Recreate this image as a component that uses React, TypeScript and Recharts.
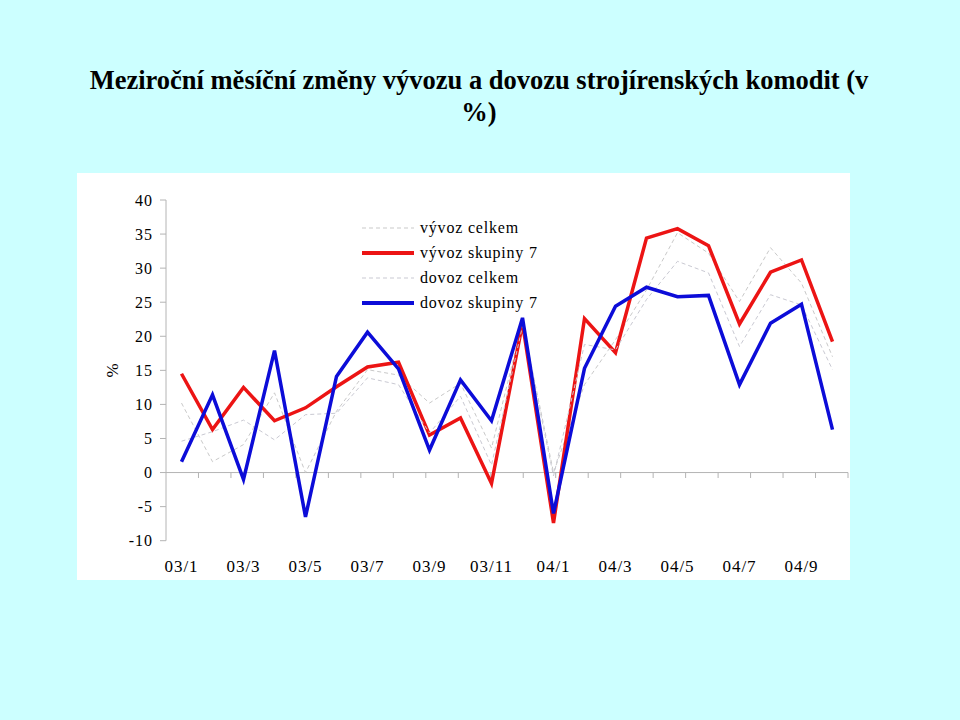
import { LineChart, Line, XAxis, YAxis, ReferenceLine, Legend } from 'recharts';

const months = [
  '03/1', '03/2', '03/3', '03/4', '03/5', '03/6', '03/7', '03/8', '03/9', '03/10', '03/11', '03/12',
  '04/1', '04/2', '04/3', '04/4', '04/5', '04/6', '04/7', '04/8', '04/9', '04/10',
];
const vyvozCelkem = [10.2, 1.6, 4.1, 11.7, 0.0, 9.0, 15.1, 14.3, 10.2, 13.1, 3.6, 22.0, 0.0, 12.9, 19.5, 26.8, 35.2, 32.2, 25.1, 33.0, 27.8, 17.0];
const vyvozSkupiny7 = [14.5, 6.3, 12.5, 7.6, 9.5, 12.6, 15.5, 16.2, 5.5, 8.0, -1.6, 21.9, -7.4, 22.6, 17.6, 34.4, 35.8, 33.3, 21.8, 29.4, 31.2, 19.2];
const dovozCelkem = [4.6, 6.0, 7.7, 4.8, 8.5, 8.7, 13.9, 12.9, 5.8, 11.2, 1.1, 21.5, -0.5, 18.8, 18.0, 25.4, 31.0, 29.3, 18.5, 26.1, 24.6, 15.1];
const dovozSkupiny7 = [1.6, 11.4, -1.0, 17.9, -6.5, 14.1, 20.6, 15.2, 3.3, 13.6, 7.6, 22.7, -6.0, 15.3, 24.4, 27.2, 25.8, 26.0, 12.9, 21.9, 24.7, 6.3];
const yTicks = [-10, -5, 0, 5, 10, 15, 20, 25, 30, 35, 40];
const xLabels = months.filter((_, i) => i % 2 === 0);
const boundaries = months.map((_, i) => i + 1);

const data = months.map((m, i) => ({
  month: m,
  vyvozCelkem: vyvozCelkem[i],
  vyvozSkupiny7: vyvozSkupiny7[i],
  dovozCelkem: dovozCelkem[i],
  dovozSkupiny7: dovozSkupiny7[i],
}));

const series = [
  { key: 'vyvozCelkem', name: 'vývoz celkem', color: '#c9c9c9', width: 1, dash: '4 3' },
  { key: 'vyvozSkupiny7', name: 'vývoz skupiny 7', color: '#ec1414', width: 3.5, dash: undefined },
  { key: 'dovozCelkem', name: 'dovoz celkem', color: '#c9c9d2', width: 1, dash: '4 3' },
  { key: 'dovozSkupiny7', name: 'dovoz skupiny 7', color: '#0c0cd8', width: 3.5, dash: undefined },
];

const FONT = '"Liberation Serif", "Times New Roman", serif';
const AXIS = '#b4b4b4';

function SeriesLegend() {
  return (
    <div style={{ fontFamily: FONT, fontSize: 16, letterSpacing: 0.8, color: '#000' }}>
      {series.map((s) => (
        <div key={s.key} style={{ display: 'flex', alignItems: 'center', height: 25 }}>
          <svg width={54} height={8} style={{ marginRight: 4 }}>
            <line x1={0} y1={4} x2={52} y2={4} stroke={s.color} strokeWidth={s.dash ? 1 : 4} strokeDasharray={s.dash} />
          </svg>
          <span>{s.name}</span>
        </div>
      ))}
    </div>
  );
}

export default function App() {
  return (
    <div style={{ position: 'fixed', left: 0, top: 0, width: 960, height: 720, background: '#ccffff', fontFamily: FONT }}>
      <div
        style={{
          position: 'absolute', left: 0, top: 64, width: 958, textAlign: 'center',
          fontSize: 26.5, lineHeight: '32px', fontWeight: 'bold', color: '#000',
        }}
      >
        Meziroční měsíční změny vývozu a dovozu strojírenských komodit (v
        <br />
        %)
      </div>

      <div style={{ position: 'absolute', left: 77, top: 173, width: 773, height: 407, background: '#fff' }}>
        <LineChart width={773} height={407} data={data} margin={{ top: 27, right: 2, left: 0, bottom: 0 }}>
          <XAxis
            dataKey="month"
            ticks={xLabels}
            interval={0}
            padding={{ left: 15.5, right: 15.5 }}
            axisLine={false}
            tickLine={false}
            tickSize={0}
            tickMargin={19}
            height={39.3}
            tick={{ fill: '#000', fontSize: 17, letterSpacing: 1, fontFamily: FONT }}
          />
          <XAxis xAxisId="grid" type="number" domain={[0, 22]} allowDataOverflow hide />
          <YAxis
            domain={[-10, 40]}
            ticks={yTicks}
            interval={0}
            width={89}
            stroke={AXIS}
            tickSize={6}
            tickMargin={7}
            tick={{ fill: '#000', fontSize: 16, letterSpacing: 1, fontFamily: FONT }}
            label={{
              content: ({ viewBox }: any) => (
                <text
                  x={viewBox.x + 36}
                  y={viewBox.y + viewBox.height / 2}
                  transform={`rotate(-90 ${viewBox.x + 36} ${viewBox.y + viewBox.height / 2})`}
                  textAnchor="middle"
                  dominantBaseline="central"
                  fontSize={17}
                  fontFamily={FONT}
                  fill="#000"
                >
                  %
                </text>
              ),
            }}
          />
          <ReferenceLine y={0} stroke={AXIS} strokeWidth={1} />
          {boundaries.map((b) => (
            <ReferenceLine
              key={b}
              xAxisId="grid"
              segment={[{ x: b, y: 0 }, { x: b, y: -0.8 }]}
              stroke={AXIS}
              strokeWidth={1}
            />
          ))}
          <Legend
            layout="vertical"
            align="center"
            verticalAlign="middle"
            wrapperStyle={{ top: 42, left: 285, width: 260 }}
            content={() => <SeriesLegend />}
          />
          {series.map((s) => (
            <Line
              key={s.key}
              type="linear"
              dataKey={s.key}
              name={s.name}
              stroke={s.color}
              strokeWidth={s.width}
              strokeDasharray={s.dash}
              dot={false}
              activeDot={false}
              isAnimationActive={false}
            />
          ))}
        </LineChart>
      </div>
    </div>
  );
}
